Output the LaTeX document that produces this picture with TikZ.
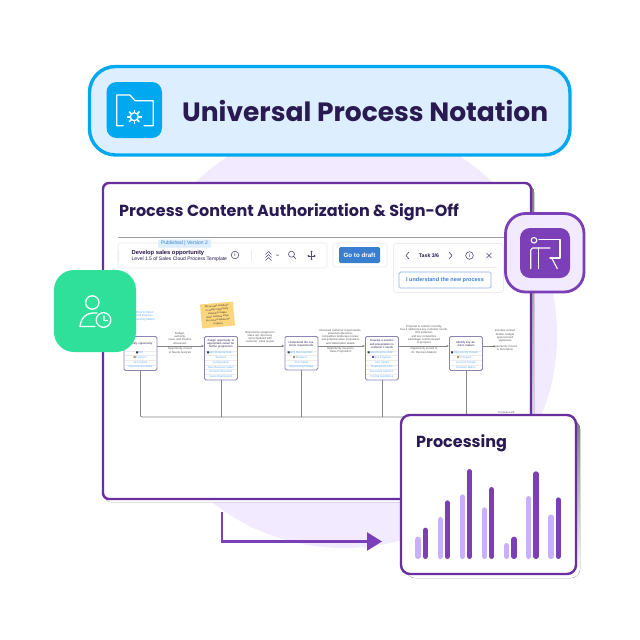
\documentclass[tikz,border=0pt]{standalone}
\usepackage{fontspec}
\usetikzlibrary{arrows.meta,calc}
\setmainfont{Liberation Sans}
\newfontfamily\headfont{Poppins}
\definecolor{ink}{HTML}{2A1A52}
\definecolor{cardline}{HTML}{6A2F9F}
\definecolor{accent}{HTML}{7B3FB8}
\definecolor{halo}{HTML}{F2EAFE}
\definecolor{shade}{HTML}{E6DAFF}
\definecolor{lilac}{HTML}{C8B0FF}
\definecolor{sky}{HTML}{00A9EF}
\definecolor{skyfill}{HTML}{DCEEFF}
\definecolor{mint}{HTML}{2EE09A}
\definecolor{linkblue}{HTML}{62AEF2}
\definecolor{btnblue}{HTML}{3A7FCF}
\definecolor{boxline}{HTML}{8C84B2}
\definecolor{busgray}{HTML}{858585}
\definecolor{hair}{HTML}{EBEBF0}
\definecolor{sticky}{HTML}{FBD67C}
\definecolor{tiny}{HTML}{555555}
\tikzset{
  x=1pt,y=-1pt,
  panel/.style={draw=hair,line width=.6pt,fill=white,rounded corners=2.5pt},
  procbox/.style={draw=boxline,line width=.8pt,fill=white,rounded corners=1.5pt,inner sep=0pt,minimum width=33pt,anchor=north west},
  flow/.style={draw=busgray,line width=.7pt},
  flowtip/.style={flow,-{Latex[length=2.5pt,width=2.5pt]}},
  bus/.style={draw=busgray,line width=.8pt},
  whiteline/.style={draw=white,line width=1.3pt,line cap=round,line join=round},
  toolicon/.style={draw=#1,line width=.6pt,line cap=round,line join=round},
  edgetext/.style={font=\fontsize{2.8}{3.3}\selectfont,text=tiny,align=center,inner sep=0pt},
  steptitle/.style={font=\fontsize{2.8}{3.1}\selectfont,text=ink,align=center,inner sep=0pt,text width=31pt},
  rowtext/.style={font=\fontsize{2.8}{3.2}\selectfont,text=linkblue,inner sep=0pt},
  bar/.style={line width=5.4pt,line cap=round},
}
% name, left x, top y, height, title, rows
\newcommand{\procstep}[6]{%
  \node[procbox,minimum height=#4pt] (#1) at (#2,#3) {};
  \node[steptitle] (#1t) at ($(#1.north)+(0,-8pt)$) {#5};
  \foreach \rowlabel [count=\rowno] in {#6} {
    \draw[hair,line width=.4pt] ($(#1.north west)+(1pt,{-14.7pt-(\rowno-1)*4.7pt})$) -- ($(#1.north east)+(-1pt,{-14.7pt-(\rowno-1)*4.7pt})$);
    \node[rowtext] (#1r\rowno) at ($(#1.north)+(0,{-17pt-(\rowno-1)*4.7pt})$) {\rowlabel};
  }
}
\begin{document}
\begin{tikzpicture}
\useasboundingbox (0,0) rectangle (640,640);
\fill[white] (0,0) rectangle (640,640);
% halo
\fill[halo] (344,335) circle[radius=213];
% main card
\fill[shade,rounded corners=6pt] (105,186) rectangle (534,502);
\draw[cardline,line width=2.4pt,fill=white,rounded corners=6pt] (103,183) rectangle (531,499);
\node[font=\headfont\bfseries\fontsize{16}{18}\selectfont,text=ink,anchor=base west,inner sep=0pt] (cardtitle) at (119,216) {Process Content Authorization \& Sign-Off};
\draw[draw=busgray!80,line width=.7pt] (118,237.5) -- (505,237.5);
% toolbar
\draw[panel] (118,243) rectangle (327,268);
\draw[hair,line width=.6pt] (118,250) -- (118,262);
\node[fill=skyfill,rounded corners=1pt,minimum width=53pt,minimum height=8pt,inner sep=0pt,font=\fontsize{5}{5}\selectfont,text=btnblue] (badge) at (184.5,243.5) {Published | Version 2};
\node[font=\bfseries\fontsize{5.8}{6}\selectfont,text=ink!90!black,anchor=west,inner sep=0pt] (tbtitle) at (131.5,252.5) {Develop sales opportunity};
\node[font=\fontsize{5}{6}\selectfont,text=ink!90!black,anchor=west,inner sep=0pt] (tbsub) at (131.5,259.3) {Level 1.5 of Sales Cloud Process Template};
\draw[toolicon=ink!80] (235,255) circle[radius=3.8];
\node[font=\bfseries\fontsize{4.5}{5}\selectfont,text=ink!80,inner sep=0pt] (tbinfo) at (235,255) {i};
\draw[hair,line width=.7pt] (251.5,250) -- (251.5,261);
\draw[toolicon=ink!80] (265.5,254.5) -- (268.5,251.5) -- (271.5,254.5) (265.5,257.5) -- (268.5,254.5) -- (271.5,257.5) (265.5,260.5) -- (268.5,257.5) -- (271.5,260.5);
\draw[toolicon=busgray,line width=.4pt] (276,254.5) -- (277.5,256) -- (279,254.5);
\draw[toolicon=ink!80] (291.5,254.2) circle[radius=3] (293.6,256.4) -- (296,259);
\draw[toolicon=ink!80] (311.5,251.5) -- (311.5,259) (308.5,256) -- (314.5,256);
\fill[ink!80] (311.5,251.5) circle[radius=1] (308.5,256) circle[radius=1.2] (314.5,256) circle[radius=1.2] (311.5,259) circle[radius=1];
\draw[panel] (333,243) rectangle (387,267);
\node[fill=btnblue,rounded corners=1.5pt,minimum width=41pt,minimum height=16pt,inner sep=0pt,text=white,font=\bfseries\fontsize{6.2}{7}\selectfont] (gotodraft) at (359.5,255) {Go to draft};
\draw[panel] (393.5,243.5) rectangle (503.5,292.5);
\draw[hair,line width=.6pt] (400,267.5) -- (497,267.5);
\node[font=\bfseries\fontsize{5.2}{6}\selectfont,text=ink!90!black,inner sep=0pt] (tasklabel) at (429,255.5) {Task 3/6};
\draw[toolicon=ink!80] (409,252) -- (406,255.5) -- (409,259) (449,252) -- (452,255.5) -- (449,259);
\draw[toolicon=ink!80] (469.5,255.5) circle[radius=3.8];
\node[font=\bfseries\fontsize{4.5}{5}\selectfont,text=ink!80,inner sep=0pt] (taskinfo) at (469.5,255.5) {i};
\draw[toolicon=ink!80] (486.5,253) -- (491.5,258) (486.5,258) -- (491.5,253);
\node[draw=btnblue!60,line width=.7pt,fill=white,rounded corners=1.5pt,minimum width=92pt,minimum height=16pt,inner sep=0pt,text=btnblue,font=\bfseries\fontsize{5.5}{6}\selectfont] (understand) at (445,280) {I understand the new process};
% process steps
\procstep{stepa}{123.5}{336}{34}{Identify opportunity}{SDR,Prospect,SLA Inputs,Opportunity Details}
\procstep{stepb}{204}{336}{43.5}{Assign opportunity to appropriate owner for further progression}{Sales Representati\ldots,Services,Configuration,New Business Sales,Account Executive,Sales Enablement}
\procstep{stepc}{284.5}{336}{33.5}{Understand the customer requirements}{Sales Representati\ldots,Prospect,SLA Inputs,Opportunity Details}
\procstep{stepd}{365}{336}{43.5}{Develop a solution and presentation to customer's needs}{Sales Representati\ldots,Value Engineer,SLA Inputs,Deployment Plan,Executive Sponsor,Pricing Guidelines}
\procstep{stepe}{449}{336}{34}{Identify key decision makers}{Opportunity Details,Prospect,Account Details,Decision Matrix}
% small role markers
\fill[tiny!70!black] (136,351.3) rectangle (138,353.3) (207,351.3) rectangle (209,353.3) (287.5,351.3) rectangle (289.5,353.3) (367.5,351.3) rectangle (369.5,353.3) (451,351.3) rectangle (453,353.3);
\fill[sticky!70!black] (133.5,356) rectangle (135.5,358) (293,356) rectangle (295,358) (457,356) rectangle (459,358);
\fill[accent] (371.5,356) rectangle (373.5,358);
% connectors
\draw[flowtip] ([yshift=-10pt]stepa.north east) -- ([yshift=-10pt]stepb.north west);
\draw[flowtip] ([yshift=-10pt]stepb.north east) -- ([yshift=-10pt]stepc.north west);
\draw[flowtip] ([yshift=-10pt]stepc.north east) -- ([yshift=-10pt]stepd.north west);
\draw[flowtip] ([yshift=-10pt]stepd.north east) -- ([yshift=-10pt]stepe.north west);
\coordinate (stepout) at (495,346);
\coordinate (busend) at (410,417);
\draw[flow] ([yshift=-10pt]stepe.north east) -- (stepout);
\draw[bus,rounded corners=2pt] (stepa.south) |- (busend);
\draw[bus] (stepb.south) -- (stepb.south |- busend);
\draw[bus] (stepc.south) -- (stepc.south |- busend);
\draw[bus] (stepd.south) -- (stepd.south |- busend);
\draw[bus] (stepe.south) -- (stepe.south |- busend);
% flow labels
\node[edgetext,anchor=south] (la) at (180,344.5) {Budget,\\authority,\\need, and timeline\\discussion};
\node[edgetext,anchor=north] (lb) at (180,347.5) {Opportunity moved\\to Needs Analysis};
\node[edgetext,anchor=south] (lc) at (260,343.5) {Opportunity assigned to\\sales rep; discovery\\call scheduled with\\customer; initial review};
\node[edgetext,anchor=south] (ld) at (340.5,344.5) {Received customer requirements,\\potential objections,\\competitive landscape review,\\and potential value proposition\\and stakeholder details};
\node[edgetext,anchor=north] (le) at (340.5,347) {Opportunity moved to\\Value Proposition};
\node[edgetext,anchor=south] (lf) at (424,344.5) {Proposal or solution recently,\\how it addresses key customer needs,\\ROI potential,\\and any competitive\\advantage communicated\\to prospect};
\node[edgetext,anchor=north] (lg) at (424,347.5) {Opportunity moved to\\ID. Decision Makers};
\node[edgetext,anchor=south] (lh) at (505,342.5) {Includes contact\\details, budget\\approval and\\signatures};
\node[edgetext,anchor=north] (li) at (505,345) {Opportunity moved\\to Perception};
\node[edgetext] (lj) at (506.5,412.5) {Process Link};
\node[font=\fontsize{3}{3.7}\selectfont,text=linkblue,align=left,anchor=north west,inner sep=0pt] (note) at (136,311) {How to Open\\and Process\\Activity Matrix\\...};
% sticky note
\node[fill=sticky,rotate=5,minimum width=33pt,minimum height=24pt,inner sep=0pt,text width=31pt,align=center,font=\fontsize{2.4}{3.5}\selectfont,text=tiny!60!black] (stickynote) at (217.5,315) {We provide workflows\\to assign opportunity\\ownership stages\\Enter workflow steps\\you should update the\\progress};
% green badge
\fill[mint,rounded corners=20pt] (54,270) rectangle (136,352);
\draw[whiteline] (92.3,302.5) circle[radius=6.7];
\draw[whiteline] (97,313) .. controls (86,312) and (81,318) .. (80,326.5) -- (95,326.5);
\draw[whiteline] (103.5,320) circle[radius=7.3];
\draw[whiteline,line width=1.1pt] (104,316) -- (104,320.5) -- (107.5,320.7);
% presenter badge
\draw[draw=accent,line width=2.8pt,fill=halo,rounded corners=20pt] (505.5,213.5) rectangle (584,292);
\fill[accent,rounded corners=10pt] (520,228) rectangle (570,278);
\draw[whiteline,line width=1.1pt] (534,240.3) circle[radius=2.8];
\draw[whiteline,line width=1.1pt] (539,239.7) -- (560,239.7) -- (560,258) -- (550,258);
\draw[whiteline,line width=1.1pt] (530.7,268.7) -- (530.7,250) -- (532.5,248) -- (550,248);
\draw[whiteline,line width=1.1pt] (538.3,268.7) -- (538.3,248);
\draw[whiteline,line width=1.1pt] (551.7,258) -- (557.3,268.7);
% arrow
\coordinate (arrowfrom) at (222,512);
\coordinate (arrowto) at (382,541.5);
\draw[draw=accent,line width=2.4pt,-{Triangle[length=15pt,width=18pt]}] (arrowfrom) |- (arrowto);
% processing card
\fill[shade,rounded corners=9pt] (406,420) rectangle (580,578);
\draw[draw=cardline,line width=2.4pt,fill=white,rounded corners=9pt] (401,415) rectangle (576,574);
\node[font=\headfont\bfseries\fontsize{16}{18}\selectfont,text=ink,anchor=base west,inner sep=0pt] (proctitle) at (416,447) {Processing};
\foreach \xl/\tl/\xd/\td in {84/395/106/368,151/336/172/286,217/268/239/192,284/307/305/246,350/414/372/395,416/273/438/199,483/329/505/277}{
  \draw[bar,lilac] ({390+\xl/3},{405+(\tl+8)/3}) -- ({390+\xl/3},{405+454/3});
  \draw[bar,accent] ({390+\xd/3},{405+(\td+8)/3}) -- ({390+\xd/3},{405+454/3});
}
% header
\draw[draw=sky,line width=3.4pt,fill=skyfill,rounded corners=26pt] (89.5,66.5) rectangle (570,155);
\fill[sky,rounded corners=10pt] (106.5,82) rectangle (162,138);
\draw[whiteline,line width=1.2pt] (123.3,125.7) -- (116.7,125.7) -- (116.7,95) -- (130,95) -- (135,100.7) -- (153.3,100.7) -- (153.3,125.7) -- (144,125.7);
\draw[white,line width=1.3pt] (134.3,116.7) circle[radius=4];
\foreach \ang in {0,45,...,315}{
  \draw[white,line width=1.6pt] ($(134.3,116.7)+(\ang:4.3)$) -- ($(134.3,116.7)+(\ang:7.2)$);
}
\node[font=\headfont\bfseries\fontsize{26.5}{30}\selectfont,text=ink,anchor=base west,inner sep=0pt] (headtitle) at (182,121.5) {Universal Process Notation};
\end{tikzpicture}
\end{document}
